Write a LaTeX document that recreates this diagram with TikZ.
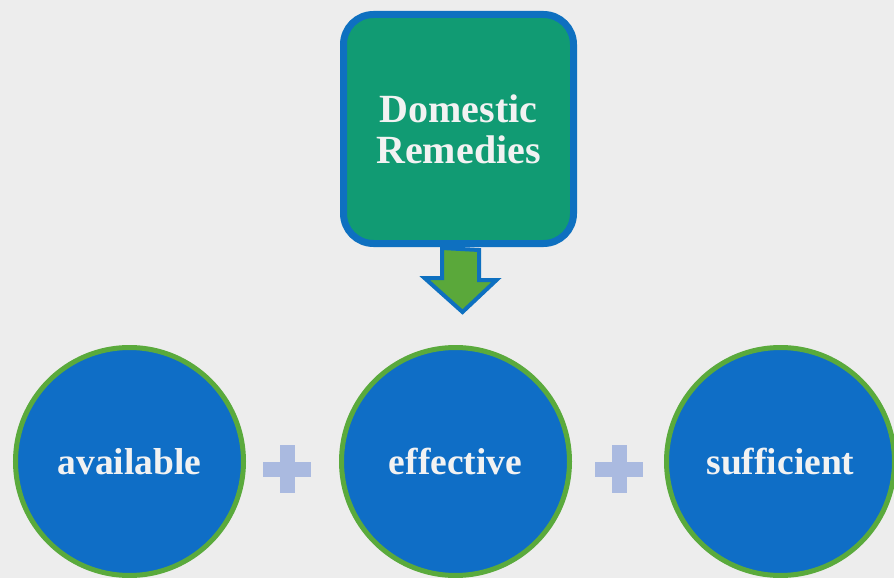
\documentclass[tikz,border=0pt]{standalone}
\usepackage{fontspec}
\setmainfont{Liberation Serif}
\usetikzlibrary{calc}
\definecolor{bg}{RGB}{237,237,237}
\definecolor{boxfill}{RGB}{17,155,115}
\definecolor{boxline}{RGB}{14,112,192}
\definecolor{arrowfill}{RGB}{90,168,58}
\definecolor{circfill}{RGB}{15,110,198}
\definecolor{circline}{RGB}{90,170,60}
\definecolor{plusfill}{RGB}{170,186,224}
\definecolor{txt}{RGB}{242,242,242}
\tikzset{
  topbox/.style={draw=boxline, line width=7pt, fill=boxfill, rounded corners=30pt,
    minimum width=230pt, minimum height=229pt, inner sep=0pt, align=center,
    text=txt, font=\fontsize{40}{41}\selectfont\bfseries},
  bubble/.style={circle, draw=circline, line width=5pt, fill=circfill,
    minimum size=228pt, inner sep=0pt, text=txt, font=\fontsize{37.5}{40}\selectfont\bfseries},
  plussign/.style={fill=plusfill, draw=none},
  downarrow/.style={draw=boxline, line width=4pt, fill=arrowfill, line join=miter}
}
\begin{document}
\begin{tikzpicture}[x=1pt,y=-1pt]
\fill[bg] (0,0) rectangle (894,578);
\useasboundingbox (0,0) rectangle (894,578);
\node[topbox] (remedies) at (458.5,129) {Domestic\\Remedies};
\coordinate (tip) at (462.5,312);
\draw[downarrow] ($(remedies.south)+(-16.5,1)$) -- ++(0,30) -- ++(-17.5,0) -- (tip)
  -- ++(34,-32) -- ++(-17.5,0) -- ++(0,-30) -- cycle;
\node[bubble] (available) at (129.5,461.5) {available};
\node[bubble] (effective) at (455.5,461.5) {effective};
\node[bubble] (sufficient) at (780.5,461.5) {sufficient};
\coordinate (p1) at ($($(available.east)!0.445!(effective.west)$)+(0,7.5)$);
\coordinate (p2) at ($($(effective.east)!0.515!(sufficient.west)$)+(0,7.5)$);
\foreach \p in {p1,p2}{
  \fill[plussign] ($(\p)+(-24,-7.5)$) rectangle ($(\p)+(24,7.5)$);
  \fill[plussign] ($(\p)+(-7.5,-24)$) rectangle ($(\p)+(7.5,24)$);
}
\end{tikzpicture}
\end{document}
